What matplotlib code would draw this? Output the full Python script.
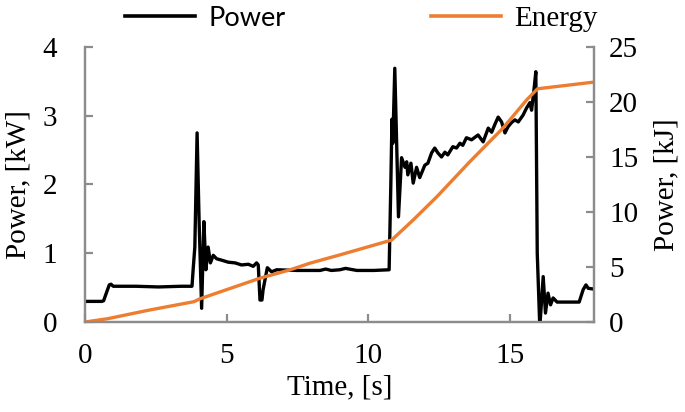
import matplotlib
matplotlib.use("Agg")
import matplotlib.pyplot as plt

# ---- data ----
power_t = [0.0, 0.60, 0.66, 0.78, 0.86, 0.92, 1.0, 1.8, 2.6, 3.4, 3.78,
           3.82, 3.88, 3.96, 4.03, 4.12, 4.20, 4.27, 4.35, 4.43, 4.53, 4.65,
           4.82, 5.06, 5.30, 5.53, 5.77, 5.94, 6.06, 6.12, 6.18, 6.25, 6.29,
           6.44, 6.59, 6.77, 7.5, 8.3, 8.5, 8.7, 9.0, 9.2, 9.6, 10.2, 10.74,
           10.80, 10.84, 10.87, 10.94, 11.07, 11.18, 11.30, 11.36, 11.40,
           11.51, 11.59, 11.71, 11.82, 12.00, 12.11, 12.24, 12.35, 12.46,
           12.59, 12.71, 12.81, 12.99, 13.12, 13.24, 13.34, 13.47, 13.65,
           13.88, 14.06, 14.24, 14.36, 14.47, 14.59, 14.71, 14.83, 14.94,
           15.06, 15.18, 15.30, 15.47, 15.59, 15.71, 15.77, 15.86, 15.92,
           15.97, 16.06, 16.18, 16.26, 16.35, 16.44, 16.53, 16.67, 17.0,
           17.45, 17.59, 17.69, 17.77, 17.95]
power_kw = [0.30, 0.30, 0.31, 0.45, 0.54, 0.55, 0.52, 0.52, 0.51, 0.52, 0.52,
            0.76, 1.09, 2.75, 1.48, 0.20, 1.46, 0.76, 1.09, 0.86, 0.97, 0.92,
            0.90, 0.87, 0.86, 0.83, 0.84, 0.81, 0.86, 0.83, 0.32, 0.32, 0.47,
            0.79, 0.73, 0.76, 0.75, 0.75, 0.77, 0.75, 0.76, 0.78, 0.75, 0.75,
            0.76, 2.0, 2.95, 2.6, 3.69, 1.53, 2.39, 2.25, 2.33, 2.14,
            2.31, 2.02, 2.25, 2.10, 2.28, 2.31, 2.46, 2.53, 2.46,
            2.40, 2.47, 2.43, 2.55, 2.53, 2.60, 2.57, 2.68, 2.65,
            2.72, 2.62, 2.82, 2.76, 2.87, 2.98, 2.91, 2.75, 2.84,
            2.90, 2.94, 2.91, 3.01, 3.11, 3.19, 3.08, 3.40, 3.64,
            1.0, -0.07, 0.66, 0.13, 0.42, 0.25, 0.35, 0.29, 0.29,
            0.29, 0.47, 0.54, 0.49, 0.48]

energy_t = [0.0, 0.8, 2.2, 3.85, 4.05, 6.2, 7.25, 7.95, 9.0, 10.83, 11.6,
            12.43, 13.6, 14.75, 15.6, 15.98, 17.95]
energy_kj = [0.0, 0.3, 1.05, 1.85, 2.1, 4.0, 4.75, 5.35, 6.1, 7.45, 9.3,
             11.4, 14.6, 17.6, 20.2, 21.2, 21.8]

x_ticks = [0, 5, 10, 15]
left_ticks = [0, 1, 2, 3, 4]
right_ticks = [0, 5, 10, 15, 20, 25]

ORANGE = "#ED7D31"
GREY = "#8c8c8c"
SERIF = ["Liberation Serif", "DejaVu Serif"]
FS = 21

fig = plt.figure(figsize=(6.85, 4.12), dpi=100)
ax = fig.add_axes([0.124, 0.2184, 0.743, 0.6676])
ax2 = ax.twinx()

l1, = ax.plot(power_t, power_kw, color="black", lw=2.4, label="Power",
              solid_joinstyle="round", zorder=3)
l2, = ax2.plot(energy_t, energy_kj, color=ORANGE, lw=2.4, label="Energy")

ax.set_xlim(0, 17.97)
ax.set_ylim(0, 4)
ax2.set_ylim(0, 25)
ax.set_xticks(x_ticks)
ax.set_yticks(left_ticks)
ax2.set_yticks(right_ticks)

for a in (ax, ax2):
    a.spines["top"].set_visible(False)
    for s in ("left", "right", "bottom"):
        a.spines[s].set_color(GREY)
        a.spines[s].set_linewidth(1.6)
    a.patch.set_visible(False)

ax.tick_params(axis="both", direction="in", length=6, width=1.6, color=GREY,
               labelsize=FS)
ax.tick_params(axis="x", pad=15)
ax.tick_params(axis="y", pad=20)
ax2.tick_params(axis="y", direction="in", length=6, width=1.6, color=GREY,
                labelsize=FS, pad=11)
for lab in ax.get_xticklabels() + ax.get_yticklabels() + ax2.get_yticklabels():
    lab.set_fontfamily(SERIF)

ax.set_xlabel("Time, [s]", fontsize=FS, family=SERIF, labelpad=4)
ax.set_ylabel("Power, [kW]", fontsize=FS, family=SERIF, labelpad=8)
ax2.set_ylabel("Power, [kJ]", fontsize=FS, family=SERIF, rotation=90,
               labelpad=11)

leg = fig.legend([l1, l2], ["Power", "Energy"], ncol=2, loc="center",
                 bbox_to_anchor=(0.528, 0.955), frameon=False, fontsize=FS,
                 handlelength=2.4, handletextpad=0.45, columnspacing=5.0,
                 borderaxespad=0)
for line in leg.get_lines():
    line.set_linewidth(2.6)
txts = leg.get_texts()
txts[0].set_fontfamily(["Lato", "DejaVu Sans"])
txts[0].set_fontsize(19.5)
txts[1].set_fontfamily(SERIF)

fig.savefig("out.png", dpi=100)
